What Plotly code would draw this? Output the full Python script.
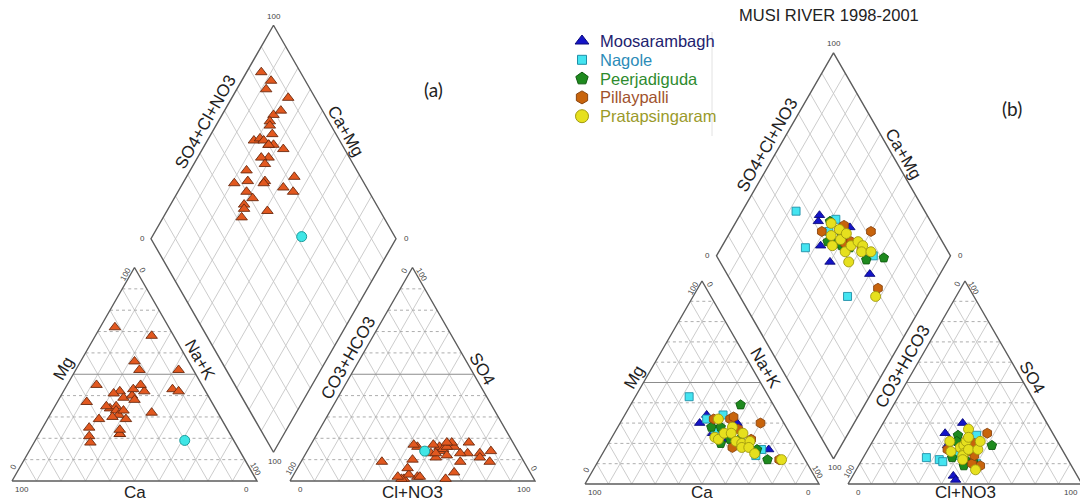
import math
import plotly.graph_objects as go

# ======================= DATA (percent of meq/L) =======================
# ---- Panel (a): samples (orange triangles) ----
A_CA   = [22, 43, 51, 35, 58, 59, 50, 22, 56, 38, 43, 40, 41, 41, 25, 35, 31,
          44, 38, 9, 44, 22, 45, 45, 13, 6, 11, 29, 44, 25, 31, 39, 27]
A_MG   = [72, 45, 37, 42, 21, 18, 29, 56, 25, 41, 34, 35, 33, 31, 42, 39, 40,
          30, 33, 68, 35, 52, 22, 22, 43, 52, 42, 43, 24, 45, 38, 29, 32]
A_NAK  = [6, 12, 12, 23, 21, 23, 21, 22, 19, 21, 23, 25, 26, 28, 33, 26, 29,
          26, 29, 23, 21, 26, 33, 33, 44, 42, 47, 28, 32, 30, 31, 32, 41]
A_HCO3 = [16, 14, 18, 11, 21, 17, 24, 25, 35, 32, 31, 26, 30, 28, 25, 30, 33,
          36, 36, 45, 53, 47, 40, 41, 27, 34, 31, 50, 49, 54, 55, 58, 46]
A_SO4  = [13, 9, 18, 14, 13, 11, 13, 16, 11, 14, 16, 9, 15, 16, 18, 12, 17,
          13, 1, 10, 1, 2, 16, 17, 18, 13, 4, 3, 6, 1, 2, 9, 2]
A_CL   = [71, 77, 64, 75, 66, 72, 63, 59, 54, 54, 53, 65, 55, 56, 57, 58, 50,
          51, 63, 45, 46, 51, 44, 42, 55, 53, 65, 47, 45, 45, 43, 33, 52]
# ---- Panel (a): single reference sample (cyan circle) ----
A2_CA, A2_MG, A2_NAK = [20], [19], [61]
A2_HCO3, A2_SO4, A2_CL = [38], [14], [48]

# ---- Panel (b): Musi river stations 1998-2001 ----
MOO_CA   = [36, 31, 33, 28, 20, 13]
MOO_MG   = [30, 34, 25, 22, 30, 17]
MOO_NAK  = [34, 35, 42, 50, 50, 70]
MOO_HCO3 = [46, 48, 53, 53, 36, 39]
MOO_SO4  = [25, 19, 4, 2, 30, 20]
MOO_CL   = [29, 33, 43, 45, 34, 41]

NAG_CA   = [34, 32, 20, 16, 31, 24]
NAG_MG   = [43, 32, 14, 17, 27, 34]
NAG_NAK  = [23, 36, 66, 67, 42, 42]
NAG_HCO3 = [55, 60, 54, 33, 40, 46]
NAG_SO4  = [12, 13, 11, 24, 10, 14]
NAG_CL   = [33, 27, 35, 43, 50, 40]

PEE_CA   = [16, 14, 28, 32, 18, 23, 32, 27]
PEE_MG   = [12, 39, 28, 20, 17, 22, 28, 22]
PEE_NAK  = [72, 47, 44, 48, 65, 55, 40, 51]
PEE_HCO3 = [29, 41, 49, 46, 37, 41, 43, 44]
PEE_SO4  = [19, 24, 13, 9, 18, 11, 21, 12]
PEE_CL   = [52, 35, 38, 45, 45, 48, 36, 44]

PIL_CA   = [10, 11, 29, 21, 28, 22, 18, 20]
PIL_MG   = [30, 12, 32, 27, 18, 32, 22, 33]
PIL_NAK  = [60, 77, 39, 52, 54, 46, 60, 47]
PIL_HCO3 = [28, 39, 49, 42, 39, 41, 36, 38]
PIL_SO4  = [25, 9, 17, 10, 14, 16, 20, 22]
PIL_CL   = [47, 52, 34, 48, 47, 43, 44, 40]

PRA_CA   = [27, 33, 32, 28, 23, 25, 25, 20, 23, 24, 19, 21, 20, 10]
PRA_MG   = [32, 23, 22, 25, 28, 25, 21, 25, 20, 18, 21, 18, 15, 12]
PRA_NAK  = [41, 44, 46, 47, 49, 50, 54, 55, 57, 58, 60, 61, 65, 78]
PRA_HCO3 = [43, 46, 41, 48, 43, 39, 44, 40, 36, 45, 35, 37, 33, 42]
PRA_SO4  = [18, 21, 19, 16, 15, 21, 14, 17, 17, 12, 27, 23, 21, 7]
PRA_CL   = [39, 33, 40, 36, 42, 40, 42, 43, 47, 43, 38, 40, 46, 51]

STATIONS = ["Moosarambagh", "Nagole", "Peerjadiguda", "Pillaypalli", "Pratapsingaram"]
TITLE_B = "MUSI RIVER 1998-2001"

# ======================= GEOMETRY / STYLE =======================
PANEL_A = dict(x0=12, s=245, g=33, base=481, h=213.5)
PANEL_B = dict(x0=585, s=234, g=29, base=484, h=203)

SANS = "Liberation Sans, Arial, sans-serif"
LABEL_FONT = dict(family=SANS, size=17, color="#222222")
TICK_FONT = dict(family=SANS, size=8, color="#444444")


def cat_xy(p, ca, mg, nak):
    xs, ys = [], []
    for c, m, n in zip(ca, mg, nak):
        t = c + m + n
        m, n = m / t, n / t
        xs.append(p["x0"] + p["s"] * (n + m / 2))
        ys.append(p["base"] - p["h"] * m)
    return xs, ys


def an_xy(p, hco3, so4, cl):
    xs, ys = [], []
    off = p["x0"] + p["s"] + p["g"]
    for a, so, c in zip(hco3, so4, cl):
        t = a + so + c
        so, c = so / t, c / t
        xs.append(off + p["s"] * (c + so / 2))
        ys.append(p["base"] - p["h"] * so)
    return xs, ys


def dia_pt(p, n, S):
    bx = p["x0"] + p["s"] + p["g"] / 2
    by = p["base"] - p["g"] * p["h"] / p["s"]
    return bx + p["s"] / 2 * (S - (1 - n)), by - p["h"] * (S + (1 - n))


def dia_xy(p, ca, mg, nak, hco3, so4, cl):
    xs, ys = [], []
    for c, m, n, a, so, cl_ in zip(ca, mg, nak, hco3, so4, cl):
        nf = n / (c + m + n)
        sf = (so + cl_) / (a + so + cl_)
        x, y = dia_pt(p, nf, sf)
        xs.append(x)
        ys.append(y)
    return xs, ys


def piper_xy(p, ca, mg, nak, hco3, so4, cl):
    x1, y1 = cat_xy(p, ca, mg, nak)
    x2, y2 = an_xy(p, hco3, so4, cl)
    x3, y3 = dia_xy(p, ca, mg, nak, hco3, so4, cl)
    return x1 + x2 + x3, y1 + y2 + y3


def tri_pt(p, which, u, v):
    off = 0 if which == "cat" else p["s"] + p["g"]
    return p["x0"] + off + p["s"] * (u + v / 2), p["base"] - p["h"] * v


def add_seg(store, a, b):
    store[0] += [a[0], b[0], None]
    store[1] += [a[1], b[1], None]


def grid_lines(p):
    slant = [[], []]
    horiz = [[], []]
    mid = [[], []]
    outline = [[], []]
    steps = [k / 10 for k in range(1, 10)]
    for which in ("cat", "an"):
        for v in steps:
            tgt = mid if abs(v - 0.5) < 1e-9 else horiz
            add_seg(tgt, tri_pt(p, which, 0, v), tri_pt(p, which, 1 - v, v))
        for u in steps:
            add_seg(slant, tri_pt(p, which, u, 0), tri_pt(p, which, u, 1 - u))
            add_seg(slant, tri_pt(p, which, u, 0), tri_pt(p, which, 0, u))
        c = [tri_pt(p, which, 0, 0), tri_pt(p, which, 1, 0), tri_pt(p, which, 0, 1), tri_pt(p, which, 0, 0)]
        outline[0] += [q[0] for q in c] + [None]
        outline[1] += [q[1] for q in c] + [None]
    for k in steps:
        add_seg(slant, dia_pt(p, k, 0), dia_pt(p, k, 1))
        add_seg(slant, dia_pt(p, 0, k), dia_pt(p, 1, k))
    c = [dia_pt(p, 1, 0), dia_pt(p, 0, 0), dia_pt(p, 0, 1), dia_pt(p, 1, 1), dia_pt(p, 1, 0)]
    outline[0] += [q[0] for q in c] + [None]
    outline[1] += [q[1] for q in c] + [None]
    return slant, horiz, mid, outline


def panel_annotations(p):
    ann = []
    s, h = p["s"], p["h"]
    ang = math.degrees(math.atan2(h, s / 2))

    def A(text, x, y, angle=0, font=TICK_FONT):
        ann.append(dict(text=text, x=x, y=y, xref="x", yref="y", showarrow=False,
                        textangle=angle, font=font, xanchor="center", yanchor="middle"))

    def edge_label(text, P, Q, t, d, center):
        mx, my = P[0] + t * (Q[0] - P[0]), P[1] + t * (Q[1] - P[1])
        ex, ey = Q[0] - P[0], Q[1] - P[1]
        L = math.hypot(ex, ey)
        nx, ny = -ey / L, ex / L
        if (mx - center[0]) * nx + (my - center[1]) * ny < 0:
            nx, ny = -nx, -ny
        a = math.degrees(math.atan2(ey, ex))
        if a > 90:
            a -= 180
        if a < -90:
            a += 180
        A(text, mx + d * nx, my + d * ny, a, LABEL_FONT)

    for which in ("cat", "an"):
        BL = tri_pt(p, which, 0, 0)
        BR = tri_pt(p, which, 1, 0)
        AP = tri_pt(p, which, 0, 1)
        cen = ((BL[0] + BR[0] + AP[0]) / 3, (BL[1] + BR[1] + AP[1]) / 3)
        base_lab_y = min(BL[1] + 11, 492)
        if which == "cat":
            A("100", BL[0] + 10, BL[1] + 8)
            A("0", BR[0] - 11, BR[1] + 8)
            A("0", BL[0] + 1, BL[1] - 14, -ang)
            A("100", AP[0] - 9, AP[1] + 7, -ang)
            A("0", AP[0] + 8, AP[1] + 3, ang)
            A("100", BR[0] - 1, BR[1] - 12, ang)
            A("Ca", (BL[0] + BR[0]) / 2, base_lab_y, 0, LABEL_FONT)
            edge_label("Mg", BL, AP, 0.5, 11, cen)
            edge_label("Na+K", BR, AP, 0.54, 11, cen)
        else:
            A("0", BL[0] + 10, BL[1] + 8)
            A("100", BR[0] - 11, BR[1] + 8)
            A("100", BL[0] + 1, BL[1] - 13, -ang)
            A("0", AP[0] - 8, AP[1] + 3, -ang)
            A("100", AP[0] + 9, AP[1] + 7, ang)
            A("0", BR[0] - 1, BR[1] - 13, ang)
            A("Cl+NO3", (BL[0] + BR[0]) / 2, base_lab_y, 0, LABEL_FONT)
            edge_label("CO3+HCO3", BL, AP, 0.55, 11, cen)
            edge_label("SO4", BR, AP, 0.5, 10, cen)
    B = dia_pt(p, 1, 0)
    Lv = dia_pt(p, 0, 0)
    T = dia_pt(p, 0, 1)
    R = dia_pt(p, 1, 1)
    cen = ((B[0] + T[0]) / 2, (B[1] + T[1]) / 2)
    A("100", T[0], T[1] - 9)
    A("0", Lv[0] - 9, Lv[1])
    A("0", R[0] + 10, R[1])
    A("100", B[0] + 1, B[1] + 9)
    edge_label("SO4+Cl+NO3", Lv, T, 0.52, 11, cen)
    edge_label("Ca+Mg", R, T, 0.48, 10, cen)
    return ann


fig = go.Figure()

for p in (PANEL_A, PANEL_B):
    slant, horiz, mid, outline = grid_lines(p)
    fig.add_trace(go.Scatter(x=slant[0], y=slant[1], mode="lines", showlegend=False, hoverinfo="skip",
                             line=dict(color="#c6c6c6", width=0.9)))
    fig.add_trace(go.Scatter(x=horiz[0], y=horiz[1], mode="lines", showlegend=False, hoverinfo="skip",
                             line=dict(color="#a4a4a4", width=0.9, dash="dot")))
    fig.add_trace(go.Scatter(x=mid[0], y=mid[1], mode="lines", showlegend=False, hoverinfo="skip",
                             line=dict(color="#8c8c8c", width=1.1)))
    fig.add_trace(go.Scatter(x=outline[0], y=outline[1], mode="lines", showlegend=False, hoverinfo="skip",
                             line=dict(color="#5c5c5c", width=1.4)))

# ---- panel (a) points ----
xa, ya = piper_xy(PANEL_A, A_CA, A_MG, A_NAK, A_HCO3, A_SO4, A_CL)
fig.add_trace(go.Scatter(x=xa, y=ya, mode="markers", showlegend=False, name="samples",
                         marker=dict(symbol="triangle-up", size=10, color="#E2581F",
                                     line=dict(color="#6B2A10", width=0.9))))
xa2, ya2 = piper_xy(PANEL_A, A2_CA, A2_MG, A2_NAK, A2_HCO3, A2_SO4, A2_CL)
fig.add_trace(go.Scatter(x=xa2, y=ya2, mode="markers", showlegend=False, name="reference",
                         marker=dict(symbol="circle", size=10, color="#3FE6E6",
                                     line=dict(color="#1E9C9C", width=1))))

# ---- panel (b) points ----
series = [
    (STATIONS[0], (MOO_CA, MOO_MG, MOO_NAK, MOO_HCO3, MOO_SO4, MOO_CL), "triangle-up", 9, 12, "#1414C8", "#0A0A7A", "#22226E"),
    (STATIONS[1], (NAG_CA, NAG_MG, NAG_NAK, NAG_HCO3, NAG_SO4, NAG_CL), "square", 8, 9, "#44E4F0", "#1F8FA8", "#2C8CB8"),
    (STATIONS[2], (PEE_CA, PEE_MG, PEE_NAK, PEE_HCO3, PEE_SO4, PEE_CL), "pentagon", 10, 13, "#1E8A1E", "#0E5A0E", "#2E8B2E"),
    (STATIONS[3], (PIL_CA, PIL_MG, PIL_NAK, PIL_HCO3, PIL_SO4, PIL_CL), "hexagon", 10, 13, "#C8640C", "#8A4510", "#A0522D"),
    (STATIONS[4], (PRA_CA, PRA_MG, PRA_NAK, PRA_HCO3, PRA_SO4, PRA_CL), "circle", 10, 13, "#E6E01E", "#A09A10", "#9A9A2A"),
]
for name, vals, sym, size, _, fill, edge, tcol in series:
    xb, yb = piper_xy(PANEL_B, *vals)
    fig.add_trace(go.Scatter(x=xb, y=yb, mode="markers", name=name, showlegend=False,
                             marker=dict(symbol=sym, size=size, color=fill, line=dict(color=edge, width=0.9))))

# ---- legend key (drawn as a small key block, top-left of panel b) ----
LEG_X_SYM, LEG_X_TXT, LEG_Y0, LEG_DY = 582, 598, 41, 18.8
annotations = []
for i, (name, vals, sym, size, lsize, fill, edge, tcol) in enumerate(series):
    yy = LEG_Y0 + i * LEG_DY
    fig.add_trace(go.Scatter(x=[LEG_X_SYM], y=[yy], mode="markers", showlegend=False, hoverinfo="skip",
                             marker=dict(symbol=sym, size=lsize, color=fill, line=dict(color=edge, width=1))))
    annotations.append(dict(text=name, x=LEG_X_TXT, y=yy, xref="x", yref="y", showarrow=False,
                            xanchor="left", yanchor="middle",
                            font=dict(family=SANS, size=16.5, color=tcol)))

annotations += panel_annotations(PANEL_A) + panel_annotations(PANEL_B)
annotations.append(dict(text="(a)", x=433, y=89, xref="x", yref="y", showarrow=False,
                        font=dict(family="Lato, Open Sans, sans-serif", size=19, color="#222222")))
annotations.append(dict(text="(b)", x=1012, y=108, xref="x", yref="y", showarrow=False,
                        font=dict(family="Lato, Open Sans, sans-serif", size=19, color="#222222")))
annotations.append(dict(text=TITLE_B, x=829, y=15, xref="x", yref="y", showarrow=False,
                        font=dict(family=SANS, size=16.5, color="#222222")))

fig.update_layout(
    width=1080, height=504,
    margin=dict(l=0, r=0, t=0, b=0, pad=0),
    paper_bgcolor="white", plot_bgcolor="white",
    xaxis=dict(range=[0, 1080], visible=False, fixedrange=True),
    yaxis=dict(range=[504, 0], visible=False, fixedrange=True),
    annotations=annotations,
    showlegend=False,
    shapes=[dict(type="line", xref="x", yref="y", x0=712, x1=712, y0=32, y1=136,
                 line=dict(color="#e2e2e2", width=1))],
)

fig.write_html("out.html", config={"displayModeBar": False},
               post_script="document.body.style.margin='0px';document.body.style.overflow='hidden';")
